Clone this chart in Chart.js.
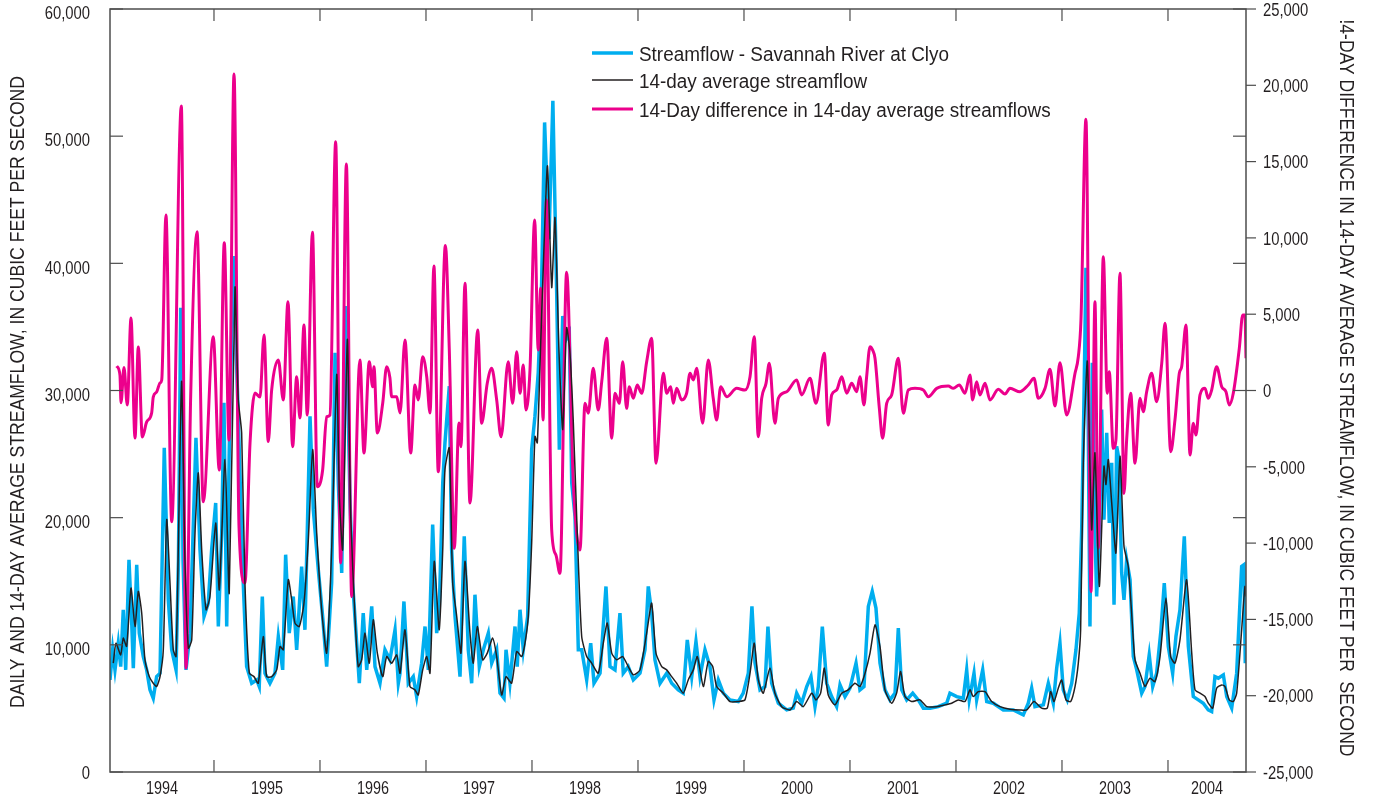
<!DOCTYPE html>
<html>
<head>
<meta charset="utf-8">
<script src="https://cdn.jsdelivr.net/npm/chart.js@4.4.1/dist/chart.umd.min.js"></script>
<style>
  html, body { margin: 0; padding: 0; background: #ffffff; }
  #wrap { position: relative; width: 1374px; height: 803px; }
</style>
</head>
<body>
<div id="wrap"><canvas id="flowChart"></canvas></div>
<script>
(function () {
  "use strict";

  // Daily streamflow, Savannah River at Clyo (decimal year, cubic feet per second)
  const flowDates = [
    1994.019,1994.044,1994.066,1994.097,1994.120,1994.144,1994.167,1994.198,1994.224,1994.239,
    1994.271,1994.295,1994.333,1994.365,1994.396,1994.427,1994.459,1994.491,1994.531,1994.569,
    1994.601,1994.642,1994.665,1994.686,1994.708,1994.736,1994.774,1994.830,1994.868,1994.906,
    1994.946,1994.978,1995.016,1995.041,1995.073,1995.094,1995.120,1995.144,1995.182,1995.229,
    1995.276,1995.308,1995.356,1995.403,1995.427,1995.456,1995.481,1995.528,1995.575,1995.607,
    1995.648,1995.676,1995.710,1995.748,1995.780,1995.827,1995.858,1995.906,1995.937,1995.984,
    1996.025,1996.063,1996.110,1996.142,1996.173,1996.205,1996.245,1996.283,1996.308,1996.340,
    1996.371,1996.408,1996.441,1996.488,1996.519,1996.566,1996.613,1996.660,1996.708,1996.739,
    1996.755,1996.792,1996.833,1996.880,1996.912,1996.959,1996.991,1997.022,1997.063,1997.101,
    1997.125,1997.158,1997.179,1997.220,1997.242,1997.274,1997.321,1997.361,1997.399,1997.431,
    1997.462,1997.503,1997.541,1997.588,1997.620,1997.667,1997.698,1997.736,1997.755,1997.792,
    1997.840,1997.861,1997.887,1997.918,1997.959,1997.997,1998.028,1998.059,1998.091,1998.119,
    1998.142,1998.160,1998.197,1998.233,1998.258,1998.290,1998.321,1998.352,1998.375,1998.406,
    1998.437,1998.469,1998.516,1998.554,1998.585,1998.642,1998.698,1998.736,1998.783,1998.830,
    1998.861,1998.908,1998.956,1999.019,1999.066,1999.097,1999.129,1999.160,1999.208,1999.271,
    1999.318,1999.380,1999.427,1999.465,1999.507,1999.547,1999.585,1999.632,1999.679,1999.717,
    1999.758,1999.805,1999.868,1999.946,1999.993,2000.041,2000.075,2000.104,2000.151,2000.198,
    2000.226,2000.261,2000.324,2000.403,2000.465,2000.497,2000.544,2000.592,2000.632,2000.670,
    2000.701,2000.739,2000.780,2000.827,2000.874,2000.906,2000.953,2001.000,2001.057,2001.094,
    2001.132,2001.173,2001.210,2001.245,2001.283,2001.330,2001.377,2001.425,2001.456,2001.488,
    2001.535,2001.592,2001.644,2001.692,2001.755,2001.833,2001.912,2001.943,2002.007,2002.069,
    2002.101,2002.125,2002.170,2002.195,2002.252,2002.290,2002.352,2002.446,2002.541,2002.635,
    2002.682,2002.714,2002.745,2002.824,2002.871,2002.918,2002.950,2002.981,2003.012,2003.050,
    2003.092,2003.132,2003.163,2003.186,2003.208,2003.226,2003.248,2003.264,2003.286,2003.311,
    2003.327,2003.352,2003.374,2003.396,2003.422,2003.446,2003.469,2003.491,2003.516,2003.538,
    2003.563,2003.585,2003.610,2003.642,2003.673,2003.705,2003.752,2003.783,2003.823,2003.856,
    2003.893,2003.934,2003.965,2004.003,2004.044,2004.075,2004.113,2004.154,2004.192,2004.239,
    2004.286,2004.333,2004.380,2004.412,2004.443,2004.475,2004.522,2004.554,2004.601,2004.648,
    2004.695,2004.717,2004.729
  ];
  const flowValues = [
    7240,9610,8030,10130,8290,12760,8030,16690,11710,8170,
    16300,10920,9080,8030,6460,5800,7500,7770,25490,13540,
    9610,8030,16690,36510,16690,8030,10920,26280,17480,12230,
    13280,17480,21160,11440,18800,29030,11440,25350,40570,27980,
    14860,8290,6980,7240,6720,13800,7770,6980,7770,10650,
    8030,17090,10920,13800,9610,16160,11180,27980,20630,15910,
    12230,8290,14860,32970,22730,15650,36640,21420,14860,10920,
    6980,12500,8030,13020,8290,6980,9610,8820,11180,6980,
    7770,13410,6980,7500,5930,8560,11440,8030,19450,10920,
    12760,22730,25880,30340,17480,12230,7500,18530,9610,6980,
    13940,8290,9610,10920,8560,9610,6200,5800,9610,6980,
    11440,8290,12760,9610,12230,25350,27980,31390,38480,51080,
    45830,41890,52780,37690,25350,35850,34020,34540,22730,20100,
    9610,9610,7240,10130,6980,7770,14590,8290,8030,12500,
    7770,8290,7240,7770,9610,14590,12500,8820,6980,7770,
    6980,6460,6200,10390,7500,10260,7500,9610,8290,5670,
    7240,6200,5670,5540,6200,7770,13020,8560,6460,6720,
    11440,6980,5410,4880,5020,6200,5410,6720,7500,5140,
    6720,11440,6980,5930,5140,6850,5930,6590,8560,6460,
    6720,13020,14200,12890,8560,6460,5670,6200,11310,6460,
    5670,6200,5670,5020,5020,5140,5410,6200,5930,5800,
    8030,5670,7770,5670,8030,5540,5410,4880,4880,4490,
    5410,6590,5140,5280,6980,5410,8170,10130,6460,5670,
    6980,9610,12500,19050,29550,39660,26930,11440,32180,19050,
    13800,19050,28500,19840,26670,19580,24310,13150,25610,24570,
    15650,13540,16690,15120,9080,8030,6200,6720,9210,6720,
    7770,11180,14860,9870,7770,10650,12760,18530,9870,5930,
    5670,5410,4880,4750,7500,7380,7640,5930,5020,7770,
    16160,16300,8560
  ];

  // 14-day average streamflow (decimal year, cubic feet per second)
  const avgDates = [
    1994.050,1994.075,1994.120,1994.144,1994.176,1994.217,1994.255,1994.286,1994.318,1994.349,
    1994.390,1994.427,1994.459,1994.491,1994.522,1994.554,1994.585,1994.616,1994.642,1994.663,
    1994.695,1994.726,1994.758,1994.790,1994.821,1994.852,1994.884,1994.925,1994.962,1995.016,
    1995.050,1995.104,1995.144,1995.198,1995.229,1995.261,1995.292,1995.333,1995.377,1995.418,
    1995.465,1995.497,1995.544,1995.592,1995.623,1995.654,1995.701,1995.733,1995.764,1995.805,
    1995.849,1995.890,1995.931,1995.969,1996.016,1996.063,1996.110,1996.158,1996.184,1996.214,
    1996.258,1996.290,1996.330,1996.361,1996.393,1996.425,1996.465,1996.503,1996.541,1996.592,
    1996.629,1996.676,1996.724,1996.755,1996.802,1996.849,1996.896,1996.927,1996.969,1997.007,
    1997.038,1997.078,1997.125,1997.158,1997.179,1997.220,1997.252,1997.290,1997.330,1997.368,
    1997.415,1997.446,1997.484,1997.535,1997.578,1997.629,1997.667,1997.714,1997.755,1997.808,
    1997.856,1997.903,1997.934,1997.965,1997.997,1998.028,1998.050,1998.075,1998.110,1998.146,
    1998.186,1998.217,1998.255,1998.290,1998.327,1998.358,1998.390,1998.427,1998.469,1998.516,
    1998.563,1998.625,1998.673,1998.710,1998.752,1998.799,1998.856,1998.908,1998.956,1999.019,
    1999.082,1999.129,1999.170,1999.224,1999.271,1999.318,1999.365,1999.427,1999.474,1999.522,
    1999.560,1999.616,1999.663,1999.705,1999.742,1999.805,1999.868,1999.946,2000.009,2000.057,
    2000.097,2000.135,2000.182,2000.245,2000.292,2000.356,2000.434,2000.497,2000.559,2000.639,
    2000.679,2000.723,2000.758,2000.795,2000.858,2000.922,2000.984,2001.047,2001.094,2001.142,
    2001.189,2001.236,2001.283,2001.330,2001.393,2001.440,2001.478,2001.519,2001.582,2001.660,
    2001.724,2001.818,2001.896,2001.959,2002.022,2002.085,2002.132,2002.163,2002.210,2002.274,
    2002.337,2002.415,2002.509,2002.604,2002.667,2002.736,2002.808,2002.861,2002.893,2002.925,
    2002.965,2002.997,2003.038,2003.082,2003.123,2003.154,2003.176,2003.201,2003.239,2003.280,
    2003.311,2003.352,2003.396,2003.415,2003.437,2003.469,2003.509,2003.547,2003.585,2003.625,
    2003.657,2003.689,2003.736,2003.783,2003.830,2003.877,2003.925,2003.981,2004.025,2004.066,
    2004.113,2004.176,2004.224,2004.255,2004.302,2004.349,2004.380,2004.422,2004.459,2004.507,
    2004.538,2004.578,2004.616,2004.648,2004.695,2004.726,2004.736
  ];
  const avgValues = [
    8560,10130,9210,10530,9870,14460,11440,14200,12500,8820,
    7500,6980,6720,7500,9610,19840,14860,9610,9080,17480,
    30730,16690,9740,10390,18800,23520,17480,12760,13800,19580,
    14330,24570,14070,38090,29290,26670,14860,7770,7500,6980,
    10650,7500,7500,8030,9870,9610,15120,13540,11710,11440,
    13280,18270,25350,18800,12760,9350,17480,31260,21420,17480,
    34020,20100,12230,8290,8820,10920,8560,11970,9350,7500,
    9080,8560,9210,7770,11180,6720,6460,6060,8030,9080,
    7770,16560,11180,17480,23780,25490,14860,12230,9350,16560,
    10920,8560,11440,8820,9350,10530,9080,6060,7500,6980,
    9470,9080,10130,12230,18010,26400,25880,31910,40500,47660,
    38090,43600,33000,26930,34940,32970,27460,18800,10650,9080,
    8560,7770,10130,11710,9350,8820,9080,8290,7640,8030,
    10920,13280,9350,8290,8030,7500,6980,6200,7240,8030,
    9080,6720,8690,8290,6720,6200,5540,5540,5670,7770,
    10130,7240,6200,8170,6200,5140,4880,5540,5140,6200,
    5670,6200,8170,6060,5280,6200,6460,6980,6720,7770,
    9350,11570,9870,6460,5410,6200,7900,5930,5540,5670,
    5140,5140,5280,5410,5670,5540,6460,5930,6320,6320,
    5540,5140,4940,4880,4880,5540,5020,5020,6320,5540,
    6590,7240,5670,5540,6720,8560,11180,24310,32310,19050,
    25100,14590,24040,22600,24570,21160,17220,24830,17740,16160,
    12500,8820,7770,6720,7380,7110,9080,13680,9080,8560,
    10390,15120,9350,6460,6200,5930,5410,5020,6590,6850,
    6720,5670,5540,6200,11180,14590,13800
  ];

  // 14-day difference in 14-day average streamflows (decimal year, cubic feet per second)
  const diffDates = [
    1994.082,1994.113,1994.123,1994.151,1994.182,1994.217,1994.255,1994.286,1994.324,1994.365,
    1994.412,1994.427,1994.459,1994.491,1994.507,1994.547,1994.601,1994.692,1994.736,1994.780,
    1994.840,1994.899,1994.993,1995.050,1995.097,1995.142,1995.189,1995.236,1995.292,1995.340,
    1995.387,1995.434,1995.472,1995.512,1995.544,1995.607,1995.654,1995.698,1995.742,1995.780,
    1995.811,1995.849,1995.880,1995.929,1995.975,1996.025,1996.063,1996.094,1996.148,1996.195,
    1996.249,1996.299,1996.377,1996.415,1996.465,1996.497,1996.509,1996.541,1996.592,1996.629,
    1996.660,1996.676,1996.724,1996.755,1996.802,1996.856,1996.896,1996.927,1996.969,1997.007,
    1997.038,1997.075,1997.116,1997.183,1997.220,1997.267,1997.311,1997.330,1997.368,1997.415,
    1997.488,1997.525,1997.578,1997.620,1997.667,1997.708,1997.776,1997.818,1997.856,1997.887,
    1997.918,1997.943,1997.981,1998.025,1998.059,1998.082,1998.104,1998.136,1998.186,1998.226,
    1998.264,1998.327,1998.390,1998.453,1998.500,1998.531,1998.578,1998.625,1998.658,1998.705,
    1998.752,1998.783,1998.824,1998.856,1998.893,1998.918,1998.956,1998.993,1999.035,1999.082,
    1999.129,1999.170,1999.239,1999.271,1999.309,1999.333,1999.365,1999.412,1999.459,1999.491,
    1999.522,1999.554,1999.610,1999.663,1999.710,1999.742,1999.780,1999.837,1999.931,2000.009,
    2000.057,2000.097,2000.135,2000.167,2000.208,2000.239,2000.292,2000.324,2000.403,2000.497,
    2000.544,2000.623,2000.679,2000.758,2000.795,2000.827,2000.874,2000.922,2000.969,2001.016,
    2001.063,2001.094,2001.132,2001.157,2001.189,2001.214,2001.236,2001.277,2001.308,2001.346,
    2001.393,2001.456,2001.503,2001.550,2001.613,2001.692,2001.739,2001.818,2001.927,2001.975,
    2002.031,2002.085,2002.132,2002.157,2002.195,2002.226,2002.274,2002.321,2002.399,2002.462,
    2002.509,2002.604,2002.682,2002.736,2002.777,2002.840,2002.887,2002.934,2002.981,2003.044,
    2003.123,2003.154,2003.179,2003.226,2003.274,2003.311,2003.342,2003.390,2003.427,2003.446,
    2003.484,2003.509,2003.547,2003.585,2003.610,2003.648,2003.689,2003.736,2003.767,2003.799,
    2003.846,2003.893,2003.941,2003.972,2004.026,2004.066,2004.107,2004.129,2004.170,2004.208,
    2004.239,2004.264,2004.302,2004.349,2004.380,2004.412,2004.459,2004.507,2004.547,2004.578,
    2004.616,2004.673,2004.705,2004.726,2004.736
  ];
  const diffValues = [
    1600,1000,-800,1500,-950,4750,-3110,2850,-3050,-2060,
    -1470,-430,-100,490,690,11500,-8600,18640,-18180,-410,
    10400,-7290,3520,-5210,9690,-3250,20740,-8920,-12610,-3440,
    -160,-430,3640,-3350,30,2000,-620,5820,-3680,900,
    -1800,4290,-1610,10370,-6300,-5210,-1720,-1610,16300,-11300,
    14840,-13510,2000,-4100,1890,250,1560,-2790,-820,1560,
    820,-410,-410,-1470,3310,-4100,360,-620,2210,900,
    -1470,8160,-5320,9510,2650,-10340,-2130,-3680,7020,-7370,
    3960,-2150,470,1450,-620,-3030,1890,-840,2540,-180,
    1670,-1280,1340,11170,2650,6700,-1930,12480,-9140,-10780,
    -11980,7750,-6080,-10450,-840,-1490,1450,-1280,580,3420,
    -3130,-180,-840,1890,-1170,250,-510,360,-180,1890,
    3420,-4770,1130,-180,250,-840,140,-620,-180,1130,
    690,1450,-2150,2000,-510,-1930,250,-410,140,30,
    900,3530,-3030,-510,470,1780,-2150,-510,-80,690,
    -290,800,-840,2440,-2260,-290,30,900,-180,470,
    -80,900,-950,900,2870,2650,2110,-1170,-3130,-840,
    -290,2110,-1490,30,140,30,-410,140,290,140,
    360,-180,1020,-620,580,-290,470,-620,80,-230,
    140,-80,360,800,-510,140,1390,-1020,1820,-1610,
    1130,2210,4620,17770,-13180,5820,-10340,8770,-180,1230,
    -3790,-3240,7680,-6740,-3240,-180,-4770,-510,-1390,-80,
    1130,-730,1780,4400,-4010,-1930,1130,1560,4290,-4230,
    -2150,-2920,-290,140,-510,30,1560,250,-80,-950,
    -180,2770,4950,4950,2110
  ];

  // Axis labels
  const yearLabels = ['1994','1995','1996','1997','1998','1999','2000','2001','2002','2003','2004'];
  const yearBreaks = [1995,1996,1997,1998,1999,2000,2001,2002,2003,2004];
  const xStart = 1994.019;
  const xEnd = 2004.736;
  const leftTitle = 'DAILY AND 14-DAY AVERAGE STREAMFLOW, IN CUBIC FEET PER SECOND';
  const rightTitle = '!4-DAY DIFFERENCE IN 14-DAY AVERAGE STREAMFLOW, IN CUBIC FEET PER  SECOND';

  const ink = '#231f20';
  const frameColor = '#4d4d4d';
  const fontFamily = "'Liberation Sans', Arial, sans-serif";

  const toPoints = (xs, ys) => xs.map((x, i) => ({ x: x, y: ys[i] }));
  const fmt = (v) => v.toLocaleString('en-US');

  // label positions: middle of each (partial) year
  const yearCenters = yearLabels.map((label) => {
    const y0 = Math.max(Number(label), xStart);
    const y1 = Math.min(Number(label) + 1, xEnd);
    return (y0 + y1) / 2;
  });

  // condensed text: squeeze a regular face horizontally
  function narrowText(ctx, text, x, y, sx, align, angle) {
    ctx.save();
    ctx.translate(x, y);
    if (angle) ctx.rotate(angle);
    ctx.scale(sx, 1);
    ctx.textAlign = align;
    ctx.textBaseline = 'middle';
    ctx.fillText(text, 0, 0);
    ctx.restore();
  }

  // frame, tick marks, tick labels, titles, legend
  const decor = {
    id: 'decor',
    afterDatasetsDraw(chart) {
      const { ctx, chartArea: a, scales } = chart;
      const seg = (x1, y1, x2, y2) => { ctx.beginPath(); ctx.moveTo(x1, y1); ctx.lineTo(x2, y2); ctx.stroke(); };
      ctx.save();
      ctx.strokeStyle = frameColor;
      ctx.lineWidth = 1.5;
      ctx.strokeRect(a.left, a.top, a.right - a.left, a.bottom - a.top);
      ctx.lineWidth = 1.2;
      scales.y.ticks.forEach((t) => {
        const y = scales.y.getPixelForValue(t.value);
        seg(a.left, y, a.left + 13, y);
        seg(a.right - 13, y, a.right, y);
      });
      scales.y2.ticks.forEach((t) => {
        const y = scales.y2.getPixelForValue(t.value);
        seg(a.right, y, a.right + 10, y);
      });
      yearBreaks.forEach((yr) => {
        const x = scales.x.getPixelForValue(yr);
        seg(x, a.top, x, a.top + 12);
        seg(x, a.bottom - 12, x, a.bottom);
      });

      // tick labels
      ctx.fillStyle = ink;
      ctx.font = '19px ' + fontFamily;
      scales.y.ticks.forEach((t) => {
        const y = scales.y.getPixelForValue(t.value);
        narrowText(ctx, fmt(t.value), a.left - 20, y + (t.value === 0 ? 2 : 5), 0.78, 'right');
      });
      scales.y2.ticks.forEach((t) => {
        const y = scales.y2.getPixelForValue(t.value);
        narrowText(ctx, fmt(t.value), a.right + 17, y + 1.5, 0.78, 'left');
      });
      ctx.font = '18px ' + fontFamily;
      scales.x.ticks.forEach((t) => {
        const x = scales.x.getPixelForValue(t.value);
        narrowText(ctx, String(Math.floor(t.value)), x, a.bottom + 17, 0.8, 'center');
      });
      ctx.restore();
    },
    afterDraw(chart) {
      const { ctx } = chart;
      ctx.save();
      ctx.fillStyle = ink;
      ctx.font = '21px ' + fontFamily;
      // axis titles, squeezed to the span they take in the figure
      const lw = ctx.measureText(leftTitle).width;
      narrowText(ctx, leftTitle, 18, 392, 632 / lw, 'center', -Math.PI / 2);
      const rw = ctx.measureText(rightTitle).width;
      narrowText(ctx, rightTitle, 1346, 388, 737 / rw, 'center', Math.PI / 2);

      // legend
      const rowY = [55, 82, 111];
      ctx.font = '20px ' + fontFamily;
      const sx = 310 / ctx.measureText(chart.data.datasets[0].label).width;
      chart.data.datasets.forEach((ds, i) => {
        ctx.strokeStyle = ds.borderColor;
        ctx.lineWidth = ds.borderWidth;
        ctx.beginPath();
        ctx.moveTo(592, rowY[i] - 2);
        ctx.lineTo(633, rowY[i] - 2);
        ctx.stroke();
        narrowText(ctx, ds.label, 639, rowY[i], sx, 'left');
      });
      ctx.restore();
    }
  };

  const ctx = document.getElementById('flowChart').getContext('2d');
  const flowChart = new Chart(ctx, {
    type: 'line',
    data: {
      datasets: [{
        label: 'Streamflow - Savannah River at Clyo',
        data: toPoints(flowDates, flowValues),
        yAxisID: 'y',
        borderColor: '#00aeef',
        borderWidth: 3.5,
        pointRadius: 0,
        tension: 0,
        order: 3
      }, {
        label: '14-day average streamflow',
        data: toPoints(avgDates, avgValues),
        yAxisID: 'y',
        borderColor: '#231f20',
        borderWidth: 1.5,
        pointRadius: 0,
        tension: 0.2,
        order: 1
      }, {
        label: '14-Day difference in 14-day average streamflows',
        data: toPoints(diffDates, diffValues),
        yAxisID: 'y2',
        borderColor: '#ec008c',
        borderWidth: 3,
        pointRadius: 0,
        cubicInterpolationMode: 'monotone',
        order: 2
      }]
    },
    options: {
      responsive: true,
      maintainAspectRatio: false,
      animation: false,
      layout: { padding: { top: 9, left: 0, right: 0, bottom: 0 } },
      plugins: {
        legend: { display: false },
        tooltip: { enabled: false }
      },
      scales: {
        x: {
          type: 'linear',
          min: xStart,
          max: xEnd,
          grid: { display: false, drawTicks: false },
          border: { display: false },
          afterBuildTicks: (scale) => {
            scale.ticks = yearCenters.map((v) => ({ value: v }));
          },
          afterFit: (scale) => {
            scale.height = 31;
            scale.paddingLeft = 0;
            scale.paddingRight = 0;
          },
          ticks: { display: false, autoSkip: false }
        },
        y: {
          position: 'left',
          min: 0,
          max: 60000,
          grid: { display: false, drawTicks: false },
          border: { display: false },
          afterFit: (scale) => {
            scale.width = 110;
            scale.paddingTop = 0;
            scale.paddingBottom = 0;
          },
          ticks: { display: false, stepSize: 10000 }
        },
        y2: {
          position: 'right',
          min: -25000,
          max: 25000,
          grid: { display: false, drawTicks: false },
          border: { display: false },
          afterFit: (scale) => {
            scale.width = 128;
            scale.paddingTop = 0;
            scale.paddingBottom = 0;
          },
          ticks: { display: false, stepSize: 5000 }
        }
      }
    },
    plugins: [decor]
  });
})();
</script>
</body>
</html>
